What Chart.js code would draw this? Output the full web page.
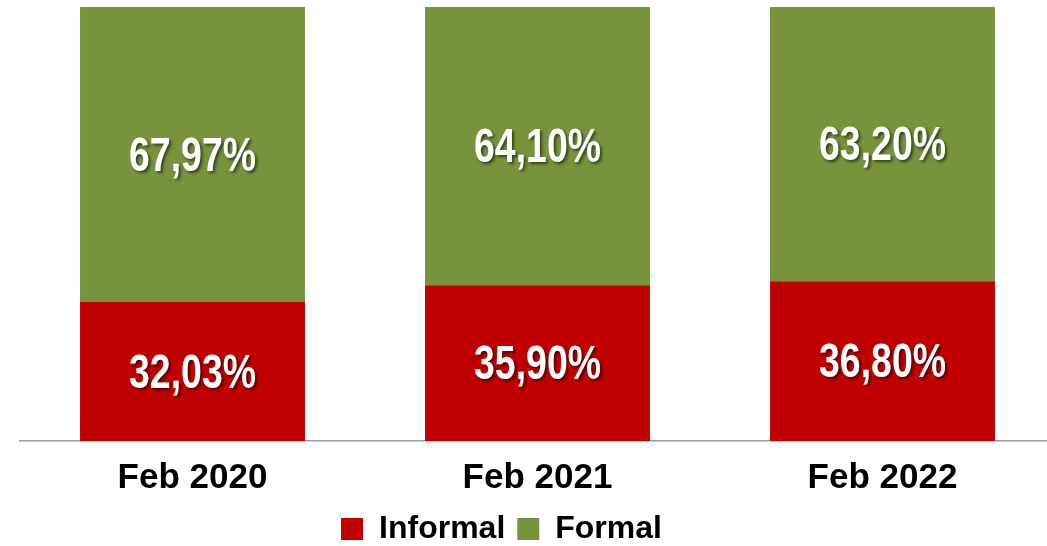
<!DOCTYPE html>
<html>
<head>
<meta charset="utf-8">
<script src="https://cdn.jsdelivr.net/npm/chart.js@4/dist/chart.umd.min.js"></script>
<style>
  html, body { margin: 0; padding: 0; background: #fff; overflow: hidden; }
  .chart-wrap { position: relative; width: 1055px; height: 546px; }
</style>
</head>
<body>
<div class="chart-wrap"><canvas id="shareChart"></canvas></div>
<script>
/* ======== Data ======== */
const categories = ['Feb 2020', 'Feb 2021', 'Feb 2022'];
const informal = [32.03, 35.90, 36.80];
const formal = [67.97, 64.10, 63.20];

/* ======== Colors / fonts ======== */
const C = { red: '#C00000', green: '#77933C', axis: '#9a9a9a', text: '#000000' };
const FONT = "'Liberation Sans', Arial, sans-serif";

/* ======== Value labels in the middle of each bar segment ======== */
// no condensed font installed, so squeeze the bold face horizontally
const valueLabels = {
    id: 'valueLabels',
    afterDatasetsDraw(chart) {
        const ctx = chart.ctx;
        const sx = 0.78;
        ctx.save();
        ctx.font = 'bold 48px ' + FONT;
        ctx.textAlign = 'center';
        ctx.textBaseline = 'middle';
        ctx.fillStyle = '#ffffff';
        ctx.shadowColor = 'rgba(0,0,0,0.55)';
        ctx.shadowOffsetX = 2;
        ctx.shadowOffsetY = 2;
        ctx.shadowBlur = 3;
        chart.data.datasets.forEach((ds, i) => {
            chart.getDatasetMeta(i).data.forEach((bar, j) => {
                const txt = ds.data[j].toFixed(2).replace('.', ',') + '%';
                ctx.save();
                ctx.translate(bar.x, (bar.y + bar.base) / 2 + 3);
                ctx.scale(sx, 1);
                ctx.fillText(txt, 0, 0);
                ctx.restore();
            });
        });
        ctx.restore();
    }
};

// legend sits left of the canvas centre and a bit lower in the original
const legendShift = {
    id: 'legendShift',
    afterLayout(chart) {
        const lg = chart.legend;
        lg.left -= 36; lg.right -= 36;
        lg.top += 9; lg.bottom += 9;
    }
};

new Chart(document.getElementById('shareChart'), {
    type: 'bar',
    data: {
        labels: categories,
        datasets: [
            { label: 'Informal', data: informal, backgroundColor: C.red },
            { label: 'Formal', data: formal, backgroundColor: C.green }
        ]
    },
    options: {
        responsive: true,
        maintainAspectRatio: false,
        animation: false,
        categoryPercentage: 1,
        barPercentage: 0.652,
        layout: { padding: { top: 7, left: 20, right: 0, bottom: 0 } },
        scales: {
            x: {
                stacked: true,
                grid: { display: false },
                border: { color: C.axis, width: 1.5 },
                ticks: { color: C.text, font: { family: FONT, size: 35, weight: 'bold' }, padding: 8 },
                afterFit(scale) { scale.height = 51; }
            },
            y: { stacked: true, display: false, min: 0, max: 100 }
        },
        plugins: {
            legend: {
                position: 'bottom',
                labels: {
                    color: C.text,
                    boxWidth: 22, boxHeight: 22,
                    padding: 12,
                    font: { family: FONT, size: 32, weight: 'bold' }
                }
            },
            tooltip: { enabled: false }
        }
    },
    plugins: [valueLabels, legendShift]
});
</script>
</body>
</html>
